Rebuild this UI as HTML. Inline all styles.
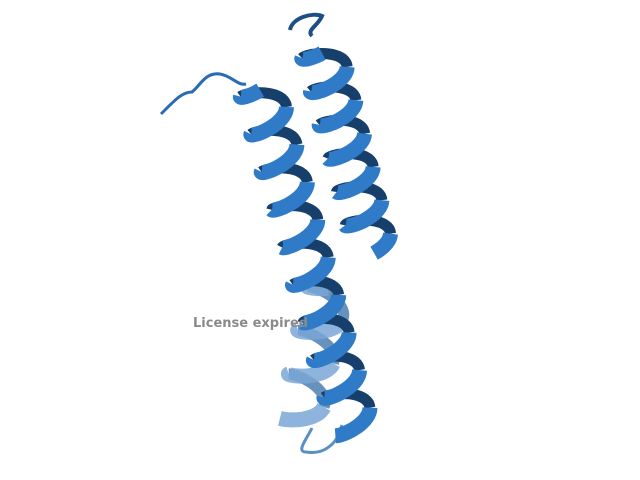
<!DOCTYPE html>
<html><head><meta charset="utf-8"><style>
html,body{margin:0;padding:0;background:#fff;width:640px;height:480px;overflow:hidden}
svg{display:block}
</style></head><body>
<svg id="s" width="640" height="480">
<path d="M161,114 C175,100 182,92 192,92 C200,86 205,72 220,74 C232,76 238,86 246,84" fill="none" stroke="#2a6cb0" stroke-width="3"/>
<path d="M290,30 C292,18 312,12 322,16 C318,26 306,30 312,36" fill="none" stroke="#1d4f85" stroke-width="4"/>
<path d="M312,428 C306,440 296,452 306,452 C318,454 325,450 330,446 C338,440 340,430 342,425" fill="none" stroke="#5a8fc4" stroke-width="3"/>
<g id="hel"></g>
<text x="193" y="327" font-family="'DejaVu Sans','Liberation Sans',sans-serif" font-weight="bold" font-size="13" fill="#8a8a8a">License expired</text>
</svg>
<script>
var g=document.getElementById('hel');
function mk(d,stroke,w,op,name){
  var p=document.createElementNS('http://www.w3.org/2000/svg','path');
  p.setAttribute('d',d);p.setAttribute('stroke',stroke);p.setAttribute('stroke-width',w);
  p.setAttribute('fill','none');p.setAttribute('opacity',op);
  p.setAttribute('stroke-linejoin','round');
  
  
  g.appendChild(p);
}
function helix(ax,ay,bx,by,turns,R,col,back,op){
  var dx=bx-ax,dy=by-ay,L=Math.hypot(dx,dy),ux=dx/L,uy=dy/L,px=-uy,py=ux;
  var N=Math.round(turns*40);var pts=[];
  for(var i=0;i<=N;i++){var s=i/N,th=s*turns*2*Math.PI;
    var x=ax+dx*s+px*R*Math.sin(th)+ux*R*0.4*Math.cos(th);
    var y=ay+dy*s+py*R*Math.sin(th)+uy*R*0.4*Math.cos(th);
    pts.push([x,y,Math.cos(th)>=0]);}
  var runs=[],cur=null;
  for(var i=0;i<N;i++){
    if(!cur||cur.f!==pts[i][2]){ if(cur){cur.d+='L'+pts[i][0].toFixed(1)+','+pts[i][1].toFixed(1);} cur={f:pts[i][2],d:'M'+pts[i][0].toFixed(1)+','+pts[i][1].toFixed(1)};runs.push(cur);}
    else cur.d+='L'+pts[i][0].toFixed(1)+','+pts[i][1].toFixed(1);
  }
  cur.d+='L'+pts[N][0].toFixed(1)+','+pts[N][1].toFixed(1);
  runs.forEach(function(r){if(!r.f)mk(r.d,back,'11',op,'helix-back-face');});
  runs.forEach(function(r){if(r.f)mk(r.d,col,'15',op,'helix-front-face');});
}
helix(330,280,300,420,3.2,21,'#7aa6d6','#4d7fb0','0.85');
helix(320,45,372,245,6,21,'#2f7bc8','#173f6b','1');
helix(258,82,354,428,9.2,21,'#2f7bc8','#173f6b','1');
</script>
</body></html>
